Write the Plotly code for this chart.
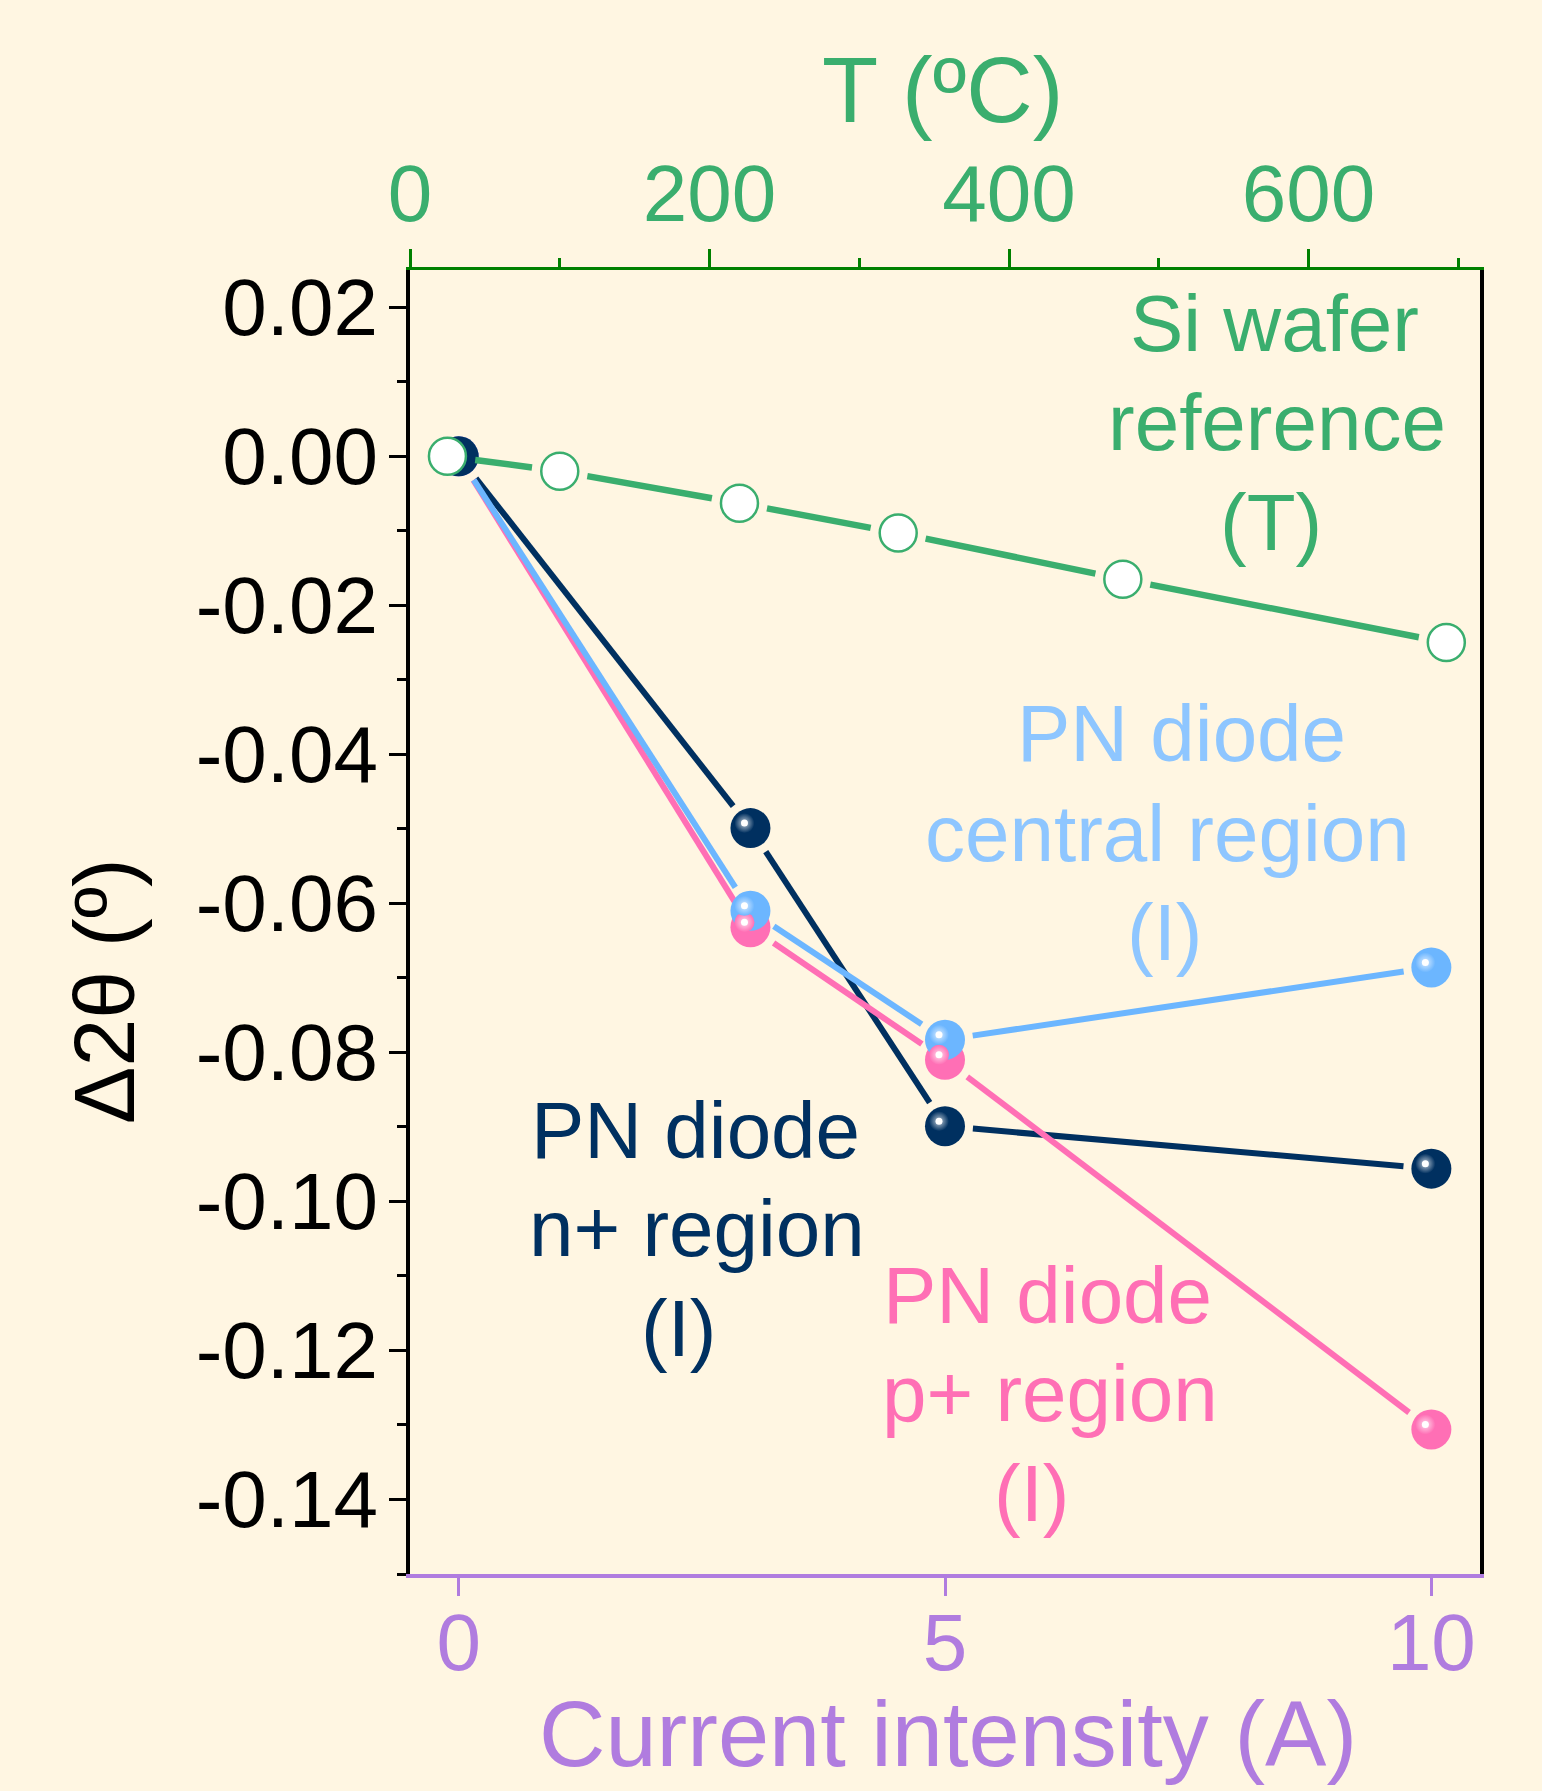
import math
import plotly.graph_objects as go

# ---------------- data ----------------
current_A = [0, 3, 5, 10]
n_plus_region = [0.0, -0.0499, -0.0899, -0.0956]
central_region = [0.0, -0.0610, -0.0783, -0.0686]
p_plus_region = [0.0, -0.0632, -0.0810, -0.1306]

temperature_C = [25, 100, 220, 326, 476, 692]
si_wafer = [0.0, -0.0020, -0.0063, -0.0103, -0.0165, -0.0250]

y_tickvals = [0.02, 0.0, -0.02, -0.04, -0.06, -0.08, -0.10, -0.12, -0.14]
y_ticktext = ["0.02", "0.00", "-0.02", "-0.04", "-0.06", "-0.08", "-0.10", "-0.12", "-0.14"]
y_minorvals = [0.01, -0.01, -0.03, -0.05, -0.07, -0.09, -0.11, -0.13, -0.15]
x_tickvals = [0, 5, 10]

# ---------------- layout geometry ----------------
W, H = 1542, 1791
ML, MR, MT, MB = 410, 62, 270, 217
PW, PH = W - ML - MR, H - MT - MB
X_RANGE = [-0.5, 10.5]
Y_RANGE = [-0.15, 0.025]
T_RANGE = [0, 714.5]
xpx = PW / (X_RANGE[1] - X_RANGE[0])
ypx = PH / (Y_RANGE[1] - Y_RANGE[0])
tpx = PW / (T_RANGE[1] - T_RANGE[0])

FONT = 'Arial, "Liberation Sans", sans-serif'
BG = "#fff6e2"
GREEN = "#3aae6e"
GREEN_AX = "#008000"
NAVY = "#003060"
BLUE = "#6cb6ff"
BLUE_TXT = "#8ec6ff"
PINK = "#ff6fb5"
PURPLE = "#b07cdf"

MARKER = 40
GAP = 28  # px from marker centre where connecting line stops


def gapped(xs, ys, sx, sy, gap=GAP):
    """Line segments between consecutive points, shortened near markers (Origin style)."""
    gx, gy = [], []
    for i in range(len(xs) - 1):
        dxp = (xs[i + 1] - xs[i]) * sx
        dyp = (ys[i + 1] - ys[i]) * sy
        L = math.hypot(dxp, dyp)
        f = gap / L
        gx += [xs[i] + (xs[i + 1] - xs[i]) * f, xs[i + 1] - (xs[i + 1] - xs[i]) * f, None]
        gy += [ys[i] + (ys[i + 1] - ys[i]) * f, ys[i + 1] - (ys[i + 1] - ys[i]) * f, None]
    return gx, gy


def tint(hexc, a):
    hexc = hexc.lstrip("#")
    r, g, b = (int(hexc[i:i + 2], 16) for i in (0, 2, 4))
    r, g, b = (int(c + (255 - c) * a) for c in (r, g, b))
    return f"rgb({r},{g},{b})"


fig = go.Figure()

series = [
    ("PN diode n+ region", n_plus_region, NAVY),
    ("PN diode p+ region", p_plus_region, PINK),
    ("PN diode central region", central_region, BLUE),
]

# lines
for name, ys, col in series:
    lx, ly = gapped(current_A, ys, xpx, ypx)
    fig.add_trace(go.Scatter(x=lx, y=ly, mode="lines", line=dict(color=col, width=6),
                             showlegend=False, hoverinfo="skip"))

# sphere markers (draw order: pink, blue, navy)
marker_order = [series[1], series[2], series[0]]
for name, ys, col in marker_order:
    fig.add_trace(go.Scatter(x=current_A, y=ys, mode="markers", name=name,
                             marker=dict(size=MARKER, color=col, line=dict(width=0)),
                             showlegend=False))

# highlights on shifted overlay axes
for name, ys, col in marker_order:
    fig.add_trace(go.Scatter(x=current_A, y=ys, mode="markers", xaxis="x2", yaxis="y2",
                             marker=dict(size=20, color=col, line=dict(width=0),
                                         gradient=dict(type="radial", color=tint(col, 0.75))),
                             showlegend=False, hoverinfo="skip"))
    fig.add_trace(go.Scatter(x=current_A, y=ys, mode="markers", xaxis="x2", yaxis="y2",
                             marker=dict(size=7, color="white", line=dict(width=0)),
                             showlegend=False, hoverinfo="skip"))

# Si wafer reference vs temperature (top axis)
sx, sy = gapped(temperature_C, si_wafer, tpx, ypx)
fig.add_trace(go.Scatter(x=sx, y=sy, mode="lines", xaxis="x3", yaxis="y",
                         line=dict(color=GREEN, width=6.5), showlegend=False, hoverinfo="skip"))
fig.add_trace(go.Scatter(x=temperature_C, y=si_wafer, mode="markers", xaxis="x3", yaxis="y",
                         name="Si wafer reference",
                         marker=dict(size=37, color="white", line=dict(color=GREEN, width=2.5)),
                         showlegend=False))

# ---------------- annotations ----------------
annotations = []


def add_text(text, cx, baseline, size, color, angle=0):
    if angle == 0:
        ym = baseline - 0.3465 * size
        annotations.append(dict(text=text, x=(cx - ML) / PW, y=(MT + PH - ym) / PH,
                                xref="paper", yref="paper", xanchor="center", yanchor="middle",
                                showarrow=False, font=dict(family=FONT, size=size, color=color)))
    else:
        annotations.append(dict(text=text, x=(cx - ML) / PW, y=(MT + PH - baseline) / PH,
                                xref="paper", yref="paper", xanchor="center", yanchor="middle",
                                textangle=angle, showarrow=False,
                                font=dict(family=FONT, size=size, color=color)))


TS = 80
for t, cx, bl in [("Si wafer", 1274.7, 351.7), ("reference", 1276.7, 450), ("(T)", 1271, 550)]:
    add_text(t, cx, bl, TS, GREEN)
for t, cx, bl in [("PN diode", 1181.5, 761), ("central region", 1167, 861), ("(I)", 1165, 960)]:
    add_text(t, cx, bl, TS, BLUE_TXT)
for t, cx, bl in [("PN diode", 695, 1158.3), ("n+ region", 696.7, 1256.7), ("(I)", 679, 1356.7)]:
    add_text(t, cx, bl, TS, NAVY)
for t, cx, bl in [("PN diode", 1047.6, 1323.3), ("p+ region", 1050, 1421.7), ("(I)", 1031.7, 1521.7)]:
    add_text(t, cx, bl, TS, PINK)

# axis titles
add_text("Current intensity (A)", 948, 1766, 92, PURPLE)
add_text("T (ºC)", 942, 121.7, 92, GREEN)
add_text("Δ2θ (º)", 104, 991, 86, "black", angle=-90)

axis_common = dict(showgrid=False, zeroline=False)

fig.update_layout(
    width=W, height=H,
    margin=dict(l=ML, r=MR, t=MT, b=MB, pad=0),
    paper_bgcolor=BG, plot_bgcolor=BG,
    showlegend=False,
    annotations=annotations,
    xaxis=dict(range=X_RANGE, tickmode="array", tickvals=x_tickvals,
               ticks="outside", ticklen=18, tickwidth=3, tickcolor=PURPLE,
               showline=True, linecolor=PURPLE, linewidth=4,
               tickfont=dict(family=FONT, size=80, color=PURPLE),
               ticklabelstandoff=-22, anchor="y", **axis_common),
    yaxis=dict(range=Y_RANGE, tickmode="array", tickvals=y_tickvals, ticktext=y_ticktext,
               ticks="outside", ticklen=17, tickwidth=3, tickcolor="black",
               showline=True, linecolor="black", linewidth=4, mirror=True,
               minor=dict(tickmode="array", tickvals=y_minorvals, ticks="outside",
                          ticklen=9, tickwidth=3, tickcolor="black"),
               tickfont=dict(family=FONT, size=80, color="black"),
               ticklabelstandoff=-5, **axis_common),
    xaxis2=dict(range=[X_RANGE[0] + 6 / xpx, X_RANGE[1] + 6 / xpx], overlaying="x",
                visible=False, anchor="y2", **axis_common),
    yaxis2=dict(range=[Y_RANGE[0] - 5 / ypx, Y_RANGE[1] - 5 / ypx], overlaying="y",
                visible=False, anchor="x2", **axis_common),
    xaxis3=dict(range=T_RANGE, overlaying="x", side="top", anchor="y",
                tickmode="linear", tick0=0, dtick=200,
                ticks="outside", ticklen=18, tickwidth=3, tickcolor=GREEN_AX,
                showline=True, linecolor=GREEN_AX, linewidth=3,
                minor=dict(tickmode="linear", tick0=0, dtick=100, ticks="outside",
                           ticklen=9, tickwidth=3, tickcolor=GREEN_AX),
                tickfont=dict(family=FONT, size=80, color=GREEN),
                ticklabelstandoff=-4, **axis_common),
)

fig.write_html("out.html", config={"displayModeBar": False},
               post_script="document.body.style.margin='0px';document.body.style.padding='0px';")
